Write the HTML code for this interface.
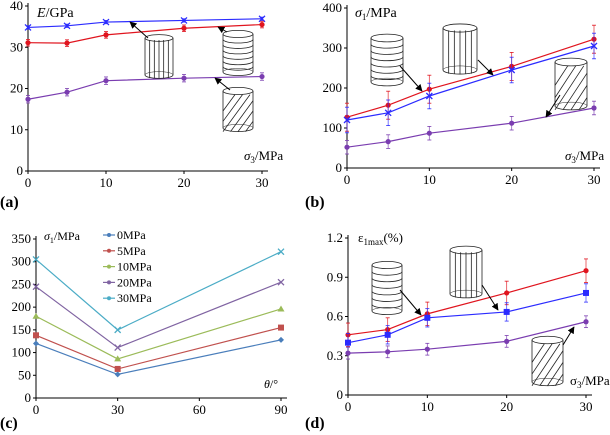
<!DOCTYPE html>
<html><head><meta charset="utf-8"><style>
body{margin:0;background:#fff;width:610px;height:435px;overflow:hidden}
svg{display:block;font-family:"Liberation Serif",serif}
</style></head><body>
<svg id="fig" width="610" height="435" viewBox="0 0 610 435" xmlns="http://www.w3.org/2000/svg">
<defs><marker id="ah" viewBox="0 0 10 10" refX="9" refY="5" markerWidth="7" markerHeight="7" orient="auto"><path d="M0,0L10,5L0,10z" fill="#000"/></marker></defs>
</svg>
<script>
const xA=[0,5,10,20,30];
const aBlue=[34.8,35.2,36.1,36.5,36.9], aRed=[31.1,31.0,33.0,34.6,35.5], aPurp=[17.4,19.1,21.9,22.5,22.9];
const aErr=[0.4,0.8,0.9];
const bRed=[127,157,197,254,322], bBlue=[120,138,180,245,305], bPurp=[52,66,87,112,150];
const bErr=[35,32,17];
const xC=[0,30,90];
const cNames=["0MPa","5MPa","10MPa","20MPa","30MPa"];
const c0=[120,52,128], c5=[138,64,155], c10=[180,86,196], c20=[245,111,255], c30=[305,150,322];
const dRed=[0.46,0.50,0.62,0.78,0.95], dBlue=[0.40,0.46,0.59,0.635,0.78], dPurp=[0.32,0.33,0.35,0.41,0.56];
const dErr=[0.09,0.07,0.045];
const aTicks=[0,10,20,30,40], bTicks=[0,100,200,300,400], cTicks=[0,50,100,150,200,250,300,350], dTicks=["0","0.3","0.6","0.9","1.2"], xTicks=[0,10,20,30], cxTicks=[0,30,60,90];

const svg=document.getElementById('fig');
const NS='http://www.w3.org/2000/svg';
function el(t,a,txt,p){const e=document.createElementNS(NS,t);for(const k in a)e.setAttribute(k,a[k]);if(txt!==undefined)e.textContent=txt;(p||svg).appendChild(e);return e;}
function lin(d0,d1,r0,r1){return v=>r0+(v-d0)/(d1-d0)*(r1-r0);}

function axes(g,x0,x1,xEnd,y0,y1,xs,ys,xt,yt){
  let a=el('line',{x1:x0,y1:y0,x2:xEnd,y2:y0,stroke:'#000','stroke-width':1},undefined,g);
  
  a=el('line',{x1:x0,y1:y0,x2:x0,y2:y1,stroke:'#000','stroke-width':1},undefined,g);
  
  xt.forEach(v=>{el('line',{x1:xs(v),y1:y0,x2:xs(v),y2:y0+3,stroke:'#000'},undefined,g);
    const t=el('text',{x:xs(v),y:y0+16,'text-anchor':'middle','font-size':13},String(v),g);
    });
  yt.forEach(v=>{const n=parseFloat(v);el('line',{x1:x0-3,y1:ys(n),x2:x0,y2:ys(n),stroke:'#000'},undefined,g);
    const t=el('text',{x:x0-5,y:ys(n)+4,'text-anchor':'end','font-size':13},String(v),g);
    });
}
function series(g,xv,yv,xs,ys,col,mk,err,name){
  const s=el('g',{},undefined,g);
  
  el('polyline',{points:xv.map((x,i)=>xs(x)+','+ys(yv[i])).join(' '),fill:'none',stroke:col,'stroke-width':1.2},undefined,s);
  xv.forEach((x,i)=>{const cx=xs(x),cy=ys(yv[i]);
    if(err){el('line',{x1:cx,y1:ys(yv[i]-err),x2:cx,y2:ys(yv[i]+err),stroke:col,'stroke-width':0.8,opacity:.8},undefined,s);
      el('line',{x1:cx-2,y1:ys(yv[i]-err),x2:cx+2,y2:ys(yv[i]-err),stroke:col,'stroke-width':0.8},undefined,s);
      el('line',{x1:cx-2,y1:ys(yv[i]+err),x2:cx+2,y2:ys(yv[i]+err),stroke:col,'stroke-width':0.8},undefined,s);}
    let m;
    if(mk==='c')m=el('circle',{cx,cy,r:2.6,fill:col},undefined,s);
    else if(mk==='s')m=el('rect',{x:cx-3,y:cy-3,width:6,height:6,fill:col},undefined,s);
    else if(mk==='d')m=el('path',{d:`M${cx},${cy-3}L${cx+3},${cy}L${cx},${cy+3}L${cx-3},${cy}z`,fill:col},undefined,s);
    else if(mk==='t')m=el('path',{d:`M${cx},${cy-3.5}L${cx+3.5},${cy+2.5}L${cx-3.5},${cy+2.5}z`,fill:col},undefined,s);
    else m=el('path',{d:`M${cx-3},${cy-3}L${cx+3},${cy+3}M${cx-3},${cy+3}L${cx+3},${cy-3}`,stroke:col,'stroke-width':1.3},undefined,s);
    
  });
}
function cyl(x,y,w,h,type){
  const g=el('g',{fill:'none',stroke:'#222','stroke-width':0.8});
  
  const ry=w*0.12;
  el('rect',{x:x,y:y,width:w,height:h,fill:'#fff',stroke:'none'},undefined,g);
  el('ellipse',{cx:x+w/2,cy:y,rx:w/2,ry:ry},undefined,g);
  el('path',{d:`M${x},${y}V${y+h}A${w/2},${ry} 0 0 0 ${x+w},${y+h}V${y}`},undefined,g);
  el('path',{d:`M${x},${y+h}A${w/2},${ry} 0 0 1 ${x+w},${y+h}`,'stroke-width':0.5},undefined,g);
  if(type==='rings'){for(let i=1;i<7;i++){const yy=y+h*i/7;el('path',{d:`M${x},${yy}A${w/2},${ry} 0 0 0 ${x+w},${yy}`},undefined,g);}}
  else if(type==='vertical'){for(let i=1;i<6;i++){const xx=x+w*i/6;el('line',{x1:xx,y1:y+ry*0.6,x2:xx,y2:y+h+ry*0.9},undefined,g);}}
  else{for(let i=-2;i<5;i++){const x1=x+w*i/4, x2=x1+w*0.9;el('line',{x1:Math.max(x,x1),y1:y+h+ry-(Math.max(x,x1)-x1)*h/(w*0.9),x2:Math.min(x+w,x2),y2:y+h+ry-(Math.min(x+w,x2)-x1)*h/(w*0.9)},undefined,g);}}
}
function arrow(x1,y1,x2,y2){const a=el('line',{x1,y1,x2,y2,stroke:'#000','stroke-width':1,'marker-end':'url(#ah)'});}
function label(x,y,t,name,size,extra){const e=el('text',Object.assign({x,y,'font-size':size||13},extra||{}),undefined);e.innerHTML=t;return e;}

// Panel a
{const g=el('g',{});
 const xs=lin(0,30,28,262),ys=lin(0,40,171,6);
 axes(g,28,262,268,171,3,xs,ys,xTicks,aTicks);
 series(g,xA,aBlue,xs,ys,'#2b2bff','x',aErr[0],'series-a-vertical');
 series(g,xA,aRed,xs,ys,'#e0141e','c',aErr[1],'series-a-horizontal');
 series(g,xA,aPurp,xs,ys,'#7a3db0','c',aErr[2],'series-a-inclined');
 label(37,17,'<tspan font-style="italic">E</tspan>/GPa','y-axis-title',14);
 label(244,160,'<tspan font-style="italic">σ</tspan><tspan font-size="9" dy="3">3</tspan><tspan dy="-3">/MPa</tspan>','x-axis-title',13);
 label(0,207,'(a)','panel-label-a',16,{'font-weight':'bold'});
 cyl(145,38,28,37,'vertical');cyl(223,34,30,38,'rings');cyl(223,91,30,37,'diagonal');
 arrow(148,38,130,22);arrow(227,32,218,27);arrow(230,90,215,78);}
// Panel b
{const g=el('g',{});
 const xs=lin(0,30,347,594),ys=lin(0,400,168,8);
 axes(g,347,594,600,168,5,xs,ys,xTicks,bTicks);
 series(g,xA,bRed,xs,ys,'#e0141e','c',bErr[0],'series-b-horizontal');
 series(g,xA,bBlue,xs,ys,'#2b2bff','x',bErr[1],'series-b-vertical');
 series(g,xA,bPurp,xs,ys,'#7a3db0','c',bErr[2],'series-b-inclined');
 label(355,17,'<tspan font-style="italic">σ</tspan><tspan font-size="9" dy="3">1</tspan><tspan dy="-3">/MPa</tspan>','y-axis-title',14);
 label(565,160,'<tspan font-style="italic">σ</tspan><tspan font-size="9" dy="3">3</tspan><tspan dy="-3">/MPa</tspan>','x-axis-title',13);
 label(305,207,'(b)','panel-label-b',16,{'font-weight':'bold'});
 cyl(371,38,32,44,'rings');cyl(443,28,34,42,'vertical');cyl(555,62,32,44,'diagonal');
 arrow(400,66,422,91);arrow(478,60,493,75);arrow(560,95,546,117);}
// Panel c
{const g=el('g',{});
 const xs=lin(0,90,36,281),ys=lin(0,350,398,239);
 axes(g,36,281,287,398,236,xs,ys,cxTicks,cTicks);
 const cols=['#4a7ebb','#c0504d','#9bbb59','#8064a2','#4bacc6'],mks=['d','s','t','x','x'],data=[c0,c5,c10,c20,c30];
 data.forEach((d,i)=>series(g,xC,d,xs,ys,cols[i],mks[i],0,'series-c-'+cNames[i]));
 cNames.forEach((n,i)=>{const y=235+i*15.8;
   const lg=el('g',{},undefined,g);
   el('line',{x1:103,y1:y,x2:115,y2:y,stroke:cols[i],'stroke-width':1.2},undefined,lg);
   el('circle',{cx:109,cy:y,r:2,fill:cols[i]},undefined,lg);
   el('text',{x:117,y:y+4,'font-size':12},n,lg);});
 label(44,240,'<tspan font-style="italic">σ</tspan><tspan font-size="8" dy="3">1</tspan><tspan dy="-3">/MPa</tspan>','y-axis-title',12);
 label(264,388,'<tspan font-style="italic">θ</tspan>/°','x-axis-title',12);
 label(0,428,'(c)','panel-label-c',16,{'font-weight':'bold'});}
// Panel d
{const g=el('g',{});
 const xs=lin(0,30,348,586),ys=lin(0,1.2,395,238);
 axes(g,348,586,592,395,235,xs,ys,xTicks,dTicks);
 series(g,xA,dRed,xs,ys,'#e0141e','c',dErr[0],'series-d-horizontal');
 series(g,xA,dBlue,xs,ys,'#2b2bff','s',dErr[1],'series-d-vertical');
 series(g,xA,dPurp,xs,ys,'#7a3db0','c',dErr[2],'series-d-inclined');
 label(358,242,'ε<tspan font-size="9" dy="3">1max</tspan><tspan dy="-3">(%)</tspan>','y-axis-title',13);
 label(570,385,'σ<tspan font-size="9" dy="3">3</tspan><tspan dy="-3">/MPa</tspan>','x-axis-title',13);
 label(305,428,'(d)','panel-label-d',16,{'font-weight':'bold'});
 cyl(372,265,30,46,'rings');cyl(450,250,32,44,'vertical');cyl(532,340,31,42,'diagonal');
 arrow(400,290,421,315);arrow(482,285,498,310);arrow(563,345,574,327);}
</script>
</body></html>
